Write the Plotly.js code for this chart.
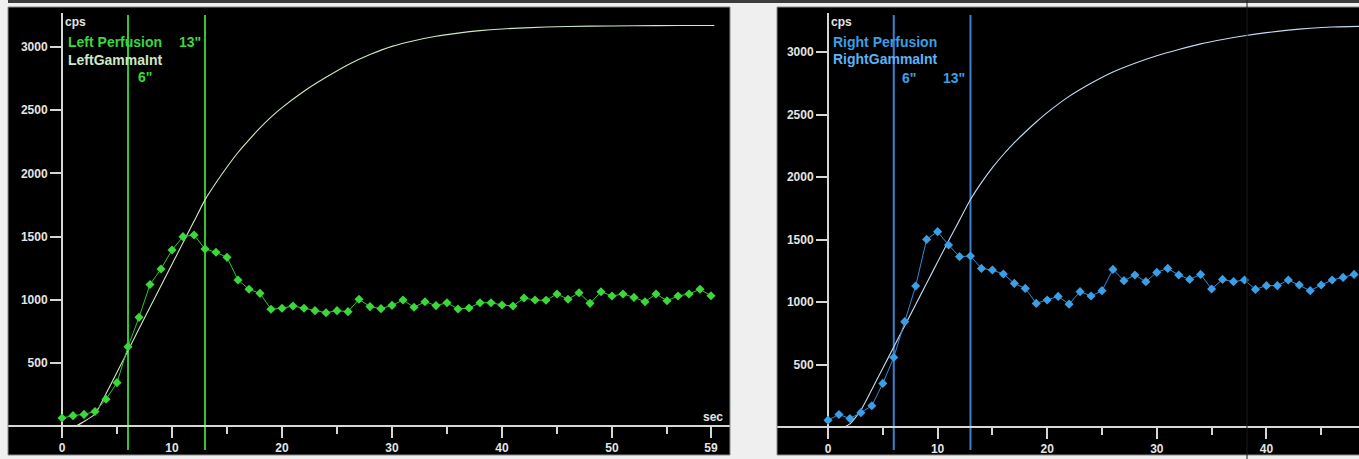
<!DOCTYPE html>
<html>
<head>
<meta charset="utf-8">
<script src="https://cdn.plot.ly/plotly-3.0.1.min.js"></script>
<style>html,body{margin:0;padding:0;background:#efefef;}#chart{width:1359px;height:459px;}</style>
</head>
<body>
<div id="chart"></div>
<script>
// ---- data ----
const leftTimes = [0,1,2,3,4,5,6,7,8,9,10,11,12,13,14,15,16,17,18,19,20,21,22,23,24,25,26,27,28,29,30,31,32,33,34,35,36,37,38,39,40,41,42,43,44,45,46,47,48,49,50,51,52,53,54,55,56,57,58,59];
const leftCounts = [63,82,92,115,212,343,628,860,1120,1243,1393,1499,1512,1401,1375,1335,1156,1082,1050,924,932,950,932,913,897,913,905,1003,945,929,955,997,940,984,953,976,926,934,976,976,958,950,1013,997,995,1045,1003,1055,971,1063,1029,1045,1018,984,1045,992,1029,1045,1082,1031];
const leftGammaTimes = [1.3,2,3,4,5,6,7,8,9,10,11,12,13,14,15,16,17,18,19,20,22,24,26,28,30,32,34,36,38,40,44,48,52,56,59.3];
const leftGammaCounts = [0,35,95,255,425,595,770,940,1110,1280,1450,1620,1790,1925,2050,2165,2265,2360,2445,2520,2650,2760,2860,2940,3005,3050,3085,3110,3130,3143,3158,3165,3168,3170,3170];

const rightTimes = [0,1,2,3,4,5,6,7,8,9,10,11,12,13,14,15,16,17,18,19,20,21,22,23,24,25,26,27,28,29,30,31,32,33,34,35,36,37,38,39,40,41,42,43,44,45,46,47,48];
const rightCounts = [55,100,68,115,170,349,557,843,1128,1501,1563,1456,1363,1368,1269,1256,1224,1149,1109,989,1016,1045,983,1083,1048,1091,1261,1171,1216,1163,1237,1269,1216,1181,1221,1104,1181,1163,1176,1101,1131,1131,1176,1136,1091,1136,1176,1197,1221];
const rightGammaTimes = [1.5,2,3,4,5,6,7,8,9,10,11,12,13,14,15,16,17,18,19,20,22,24,26,28,30,32,34,36,38,40,42,44,46,48.5];
const rightGammaCounts = [0,25,135,300,470,640,810,980,1150,1320,1490,1655,1820,1955,2075,2180,2275,2360,2440,2515,2645,2750,2840,2910,2970,3020,3065,3100,3130,3155,3175,3190,3200,3205];

const markerTimes = [6, 13];
const yTickVals = [500,1000,1500,2000,2500,3000];
const leftXTickVals = [0,10,20,30,40,50,59];
const leftXTickText = ['0','10','20','30','40','50','59'];
const rightXTickVals = [0,10,20,30,40,50];
const rightXTickText = ['0','10','20','30','40','50'];
const leftMinorVals = [5,15,25,35,45,55];
const rightMinorVals = [5,15,25,35,45];

// ---- layout helpers (pixel -> paper) ----
const W = 1359, H = 459;
const px = v => v / W;
const py = v => (H - v) / H;

const axisGray = '#d6d6d6';
const tickFont = {family: 'Liberation Sans, Arial, sans-serif', size: 12, color: '#e4e4e4', weight: 'bold'};
const labelFont = (c, s) => ({family: 'Liberation Sans, Arial, sans-serif', size: s || 14, color: c, weight: 'bold'});

const LG = '#3ad83a', LGline = '#2cc92c', LGvert = '#33c433', LGamma = '#cfe8c4';
const RB = '#3a9fe6', RBline = '#2f8cd8', RBvert = '#3b80cf', RGamma = '#c4daf0';

const traces = [
  {x: leftGammaTimes, y: leftGammaCounts, xaxis: 'x', yaxis: 'y', mode: 'lines',
   line: {color: LGamma, width: 1.1, shape: 'spline', smoothing: 0.6}, hoverinfo: 'skip'},
  {x: leftTimes, y: leftCounts, xaxis: 'x', yaxis: 'y', mode: 'lines+markers',
   line: {color: LGline, width: 1}, marker: {symbol: 'diamond', size: 7, color: LG}},
  {x: rightGammaTimes, y: rightGammaCounts, xaxis: 'x2', yaxis: 'y2', mode: 'lines',
   line: {color: RGamma, width: 1.1, shape: 'spline', smoothing: 0.6}, hoverinfo: 'skip'},
  {x: rightTimes, y: rightCounts, xaxis: 'x2', yaxis: 'y2', mode: 'lines+markers',
   line: {color: RBline, width: 1}, marker: {symbol: 'diamond', size: 7, color: RB}}
];

function xAxis(domain, range, pos, tv, tt, minor) {
  return {domain: domain, range: range, anchor: 'free', position: pos,
    showline: true, linecolor: axisGray, linewidth: 2,
    ticks: 'outside', ticklen: 11, tickwidth: 2, tickcolor: axisGray,
    tickmode: 'array', tickvals: tv, ticktext: tt, tickfont: tickFont,
    minor: {tickmode: 'array', tickvals: minor, ticks: 'outside', ticklen: 7, tickwidth: 2, tickcolor: axisGray, showgrid: false},
    showgrid: false, zeroline: false, fixedrange: true};
}
function yAxis(domain, range, pos) {
  return {domain: domain, range: range, anchor: 'free', position: pos,
    showline: false, ticks: 'outside', ticklen: 12, tickwidth: 2, tickcolor: axisGray,
    tickmode: 'array', tickvals: yTickVals, tickfont: tickFont,
    showgrid: false, zeroline: false, fixedrange: true};
}

// left: t=0 at px 62, 11 px/s ; cps=0 at py 426, 0.12633 px/cps
const lx = p => (p - 62) / 11;
const ly = p => (426 - p) / 0.12633;
// right: t=0 at px 828, 10.96 px/s ; cps=0 at py 427, 0.125 px/cps
const rx = p => (p - 828) / 10.96;
const ry = p => (427 - p) / 0.125;

const shapes = [
  {type: 'rect', xref: 'paper', yref: 'paper', x0: px(8), x1: 1, y0: py(3), y1: 1, fillcolor: '#3c3c3c', line: {width: 0}, layer: 'below'},
  {type: 'rect', xref: 'paper', yref: 'paper', x0: px(8), x1: px(730), y0: py(455), y1: py(7), line: {color: '#8a8a8a', width: 1}, fillcolor: 'rgba(0,0,0,0)'},
  {type: 'rect', xref: 'paper', yref: 'paper', x0: px(777), x1: px(1362), y0: py(455), y1: py(7), line: {color: '#8a8a8a', width: 1}, fillcolor: 'rgba(0,0,0,0)'},
  {type: 'line', xref: 'x', yref: 'paper', x0: 0, x1: 0, y0: py(438), y1: py(13), line: {color: axisGray, width: 2}, layer: 'below'},
  {type: 'line', xref: 'x2', yref: 'paper', x0: 0, x1: 0, y0: py(438), y1: py(13), line: {color: axisGray, width: 2}, layer: 'below'},
  {type: 'line', xref: 'paper', yref: 'paper', x0: px(1247), x1: px(1247), y0: 0, y1: 1, line: {color: '#1a1a1a', width: 1}}
];
markerTimes.forEach(t => {
  shapes.push({type: 'line', xref: 'x', yref: 'paper', x0: t, x1: t, y0: py(450), y1: py(15), line: {color: LGvert, width: 2}, layer: 'below'});
  shapes.push({type: 'line', xref: 'x2', yref: 'paper', x0: t, x1: t, y0: py(450), y1: py(15), line: {color: RBvert, width: 2}, layer: 'below'});
});

function ann(text, x, y, font, anchor) {
  return {text: text, xref: 'paper', yref: 'paper', x: px(x), y: py(y), xanchor: anchor || 'left', yanchor: 'middle', showarrow: false, font: font};
}
const annotations = [
  ann('cps', 63, 22, labelFont('#e4e4e4', 12)),
  ann('Left Perfusion', 66, 42, labelFont(LG)),
  ann('13"', 177, 42, labelFont(LG)),
  ann('LeftGammaInt', 66, 60, labelFont(LGamma)),
  ann('6"', 136, 77, labelFont(LG)),
  ann('sec', 725, 417, labelFont('#e4e4e4', 12), 'right'),
  ann('cps', 829, 22, labelFont('#e4e4e4', 12)),
  ann('Right Perfusion', 831, 42, labelFont(RB)),
  ann('RightGammaInt', 831, 59, labelFont('#5cb4f6')),
  ann('6"', 900, 78, labelFont(RB)),
  ann('13"', 941, 78, labelFont(RB))
];

const layout = {
  width: W, height: H, margin: {l: 0, r: 0, t: 0, b: 0, pad: 0},
  paper_bgcolor: '#efefef', plot_bgcolor: '#000000', showlegend: false,
  xaxis: xAxis([px(8), px(730)], [lx(8), lx(730)], py(426), leftXTickVals, leftXTickText, leftMinorVals),
  yaxis: yAxis([py(455), py(7)], [ly(455), ly(7)], px(62)),
  xaxis2: xAxis([px(777), 1], [rx(777), rx(1359)], py(427), rightXTickVals, rightXTickText, rightMinorVals),
  yaxis2: yAxis([py(455), py(7)], [ry(455), ry(7)], px(828)),
  shapes: shapes, annotations: annotations
};

Plotly.newPlot('chart', traces, layout, {staticPlot: true, displayModeBar: false});
</script>
</body>
</html>
